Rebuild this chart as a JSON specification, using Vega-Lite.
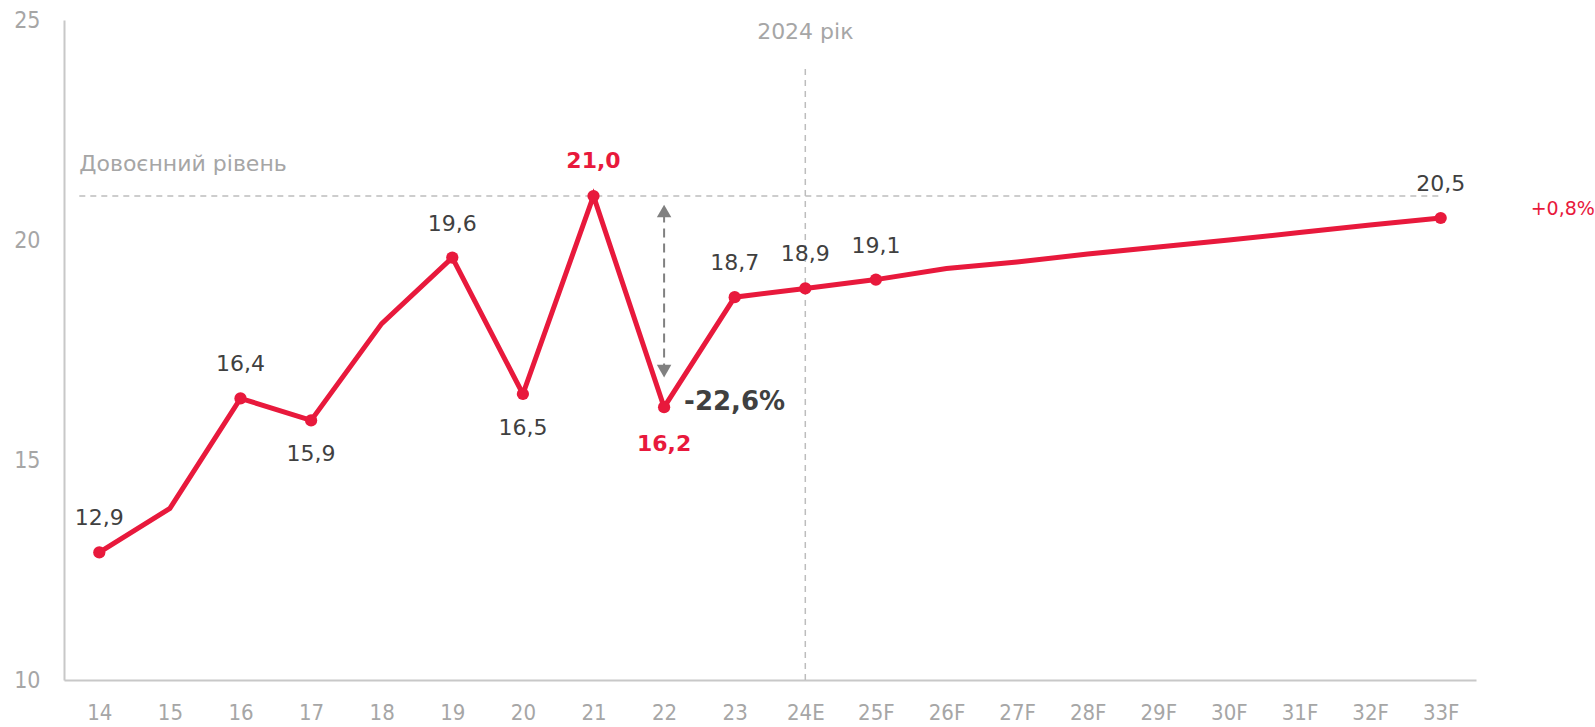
{
  "$schema": "https://vega.github.io/schema/vega-lite/v6.json",
  "width": 1412,
  "height": 660,
  "autosize": {"type": "none"},
  "padding": {"left": 64, "top": 20, "right": 119, "bottom": 47},
  "background": "white",
  "config": {"view": {"stroke": null}, "font": "DejaVu Sans"},
  "datasets": {
    "main": [
      {"x": "14", "v": 12.9, "pt": true, "label": "12,9", "pos": "above", "red": false},
      {"x": "15", "v": 13.9, "pt": false, "label": "", "pos": "none", "red": false},
      {"x": "16", "v": 16.4, "pt": true, "label": "16,4", "pos": "above", "red": false},
      {"x": "17", "v": 15.9, "pt": true, "label": "15,9", "pos": "below", "red": false},
      {"x": "18", "v": 18.1, "pt": false, "label": "", "pos": "none", "red": false},
      {"x": "19", "v": 19.6, "pt": true, "label": "19,6", "pos": "above", "red": false},
      {"x": "20", "v": 16.5, "pt": true, "label": "16,5", "pos": "below", "red": false},
      {"x": "21", "v": 21.0, "pt": true, "label": "21,0", "pos": "above", "red": true},
      {"x": "22", "v": 16.2, "pt": true, "label": "16,2", "pos": "below", "red": true},
      {"x": "23", "v": 18.7, "pt": true, "label": "18,7", "pos": "above", "red": false},
      {"x": "24E", "v": 18.9, "pt": true, "label": "18,9", "pos": "above", "red": false},
      {"x": "25F", "v": 19.1, "pt": true, "label": "19,1", "pos": "above", "red": false},
      {"x": "26F", "v": 19.35, "pt": false, "label": "", "pos": "none", "red": false},
      {"x": "27F", "v": 19.5, "pt": false, "label": "", "pos": "none", "red": false},
      {"x": "28F", "v": 19.68, "pt": false, "label": "", "pos": "none", "red": false},
      {"x": "29F", "v": 19.84, "pt": false, "label": "", "pos": "none", "red": false},
      {"x": "30F", "v": 20.0, "pt": false, "label": "", "pos": "none", "red": false},
      {"x": "31F", "v": 20.17, "pt": false, "label": "", "pos": "none", "red": false},
      {"x": "32F", "v": 20.34, "pt": false, "label": "", "pos": "none", "red": false},
      {"x": "33F", "v": 20.5, "pt": true, "label": "20,5", "pos": "above", "red": false}
    ]
  },
  "encoding": {
    "x": {
      "field": "x", "type": "ordinal",
      "scale": {"type": "point", "padding": 0.5, "domain": ["14","15","16","17","18","19","20","21","22","23","24E","25F","26F","27F","28F","29F","30F","31F","32F","33F"]},
      "axis": {"title": null, "labelAngle": 0, "ticks": false, "domainColor": "#c8c8c8", "domainWidth": 2, "labelColor": "#a6a6a6", "labelFontSize": 22, "labelFont": "DejaVu Sans Condensed", "labelPadding": 22, "grid": false}
    },
    "y": {
      "field": "v", "type": "quantitative",
      "scale": {"domain": [10, 25], "nice": false, "zero": false},
      "axis": {"title": null, "values": [10, 15, 20, 25], "ticks": false, "domainColor": "#c8c8c8", "domainWidth": 2, "labelColor": "#a6a6a6", "labelFontSize": 23, "labelFont": "DejaVu Sans Condensed", "labelPadding": 24, "grid": false}
    }
  },
  "layer": [
    {
      "data": {"values": [{"x": "14", "x2": "33F", "v": 21}]},
      "mark": {"type": "rule", "color": "#bdbdbd", "strokeWidth": 1.5, "strokeDash": [6, 5], "xOffset": -20},
      "encoding": {"x2": {"field": "x2"}}
    },
    {
      "data": {"values": [{"x": "24E", "v": 10, "v2": 23.9}]},
      "mark": {"type": "rule", "color": "#bdbdbd", "strokeWidth": 1.5, "strokeDash": [6, 5]},
      "encoding": {"y2": {"field": "v2"}}
    },
    {
      "data": {"values": [{"x": "22", "v": 20.6, "v2": 17.1}]},
      "mark": {"type": "rule", "color": "#808080", "strokeWidth": 2, "strokeDash": [9, 6]},
      "encoding": {"y2": {"field": "v2"}}
    },
    {
      "data": {"values": [{"x": "22", "v": 20.66, "s": "triangle-up"}, {"x": "22", "v": 17.02, "s": "triangle-down"}]},
      "mark": {"type": "point", "filled": true, "color": "#808080", "opacity": 1, "size": 210},
      "encoding": {"shape": {"field": "s", "type": "nominal", "scale": null}}
    },
    {
      "data": {"name": "main"},
      "mark": {"type": "line", "color": "#e8193c", "strokeWidth": 5}
    },
    {
      "data": {"name": "main"},
      "transform": [{"filter": "datum.pt"}],
      "mark": {"type": "circle", "color": "#e8193c", "opacity": 1, "size": 150}
    },
    {
      "data": {"name": "main"},
      "transform": [{"filter": "datum.pos == 'above' && !datum.red"}],
      "mark": {"type": "text", "dy": -34, "fontSize": 22, "color": "#404040", "baseline": "middle"},
      "encoding": {"text": {"field": "label"}}
    },
    {
      "data": {"name": "main"},
      "transform": [{"filter": "datum.pos == 'below' && !datum.red"}],
      "mark": {"type": "text", "dy": 34, "fontSize": 22, "color": "#404040", "baseline": "middle"},
      "encoding": {"text": {"field": "label"}}
    },
    {
      "data": {"name": "main"},
      "transform": [{"filter": "datum.pos == 'above' && datum.red"}],
      "mark": {"type": "text", "dy": -35, "fontSize": 22, "fontWeight": "bold", "color": "#e8193c", "baseline": "middle"},
      "encoding": {"text": {"field": "label"}}
    },
    {
      "data": {"name": "main"},
      "transform": [{"filter": "datum.pos == 'below' && datum.red"}],
      "mark": {"type": "text", "dy": 37, "fontSize": 22, "fontWeight": "bold", "color": "#e8193c", "baseline": "middle"},
      "encoding": {"text": {"field": "label"}}
    },
    {
      "data": {"values": [{"x": "22", "v": 16.2, "t": "-22,6%"}]},
      "mark": {"type": "text", "align": "left", "dx": 20, "dy": -5, "fontSize": 26, "fontWeight": "bold", "color": "#404040", "baseline": "middle"},
      "encoding": {"text": {"field": "t"}}
    },
    {
      "data": {"values": [{"x": "33F", "v": 20.5, "t": "+0,8%"}]},
      "mark": {"type": "text", "align": "left", "dx": 90, "dy": -9, "fontSize": 19, "color": "#e8193c", "baseline": "middle"},
      "encoding": {"text": {"field": "t"}}
    },
    {
      "data": {"values": [{"x": "24E", "v": 24.72, "t": "2024 рік"}]},
      "mark": {"type": "text", "fontSize": 22, "color": "#a6a6a6", "baseline": "middle"},
      "encoding": {"text": {"field": "t"}}
    },
    {
      "data": {"values": [{"x": "14", "v": 21, "t": "Довоєнний рівень"}]},
      "mark": {"type": "text", "align": "left", "dx": -20, "dy": -32, "fontSize": 22, "color": "#a6a6a6", "baseline": "middle"},
      "encoding": {"text": {"field": "t"}}
    }
  ]
}
